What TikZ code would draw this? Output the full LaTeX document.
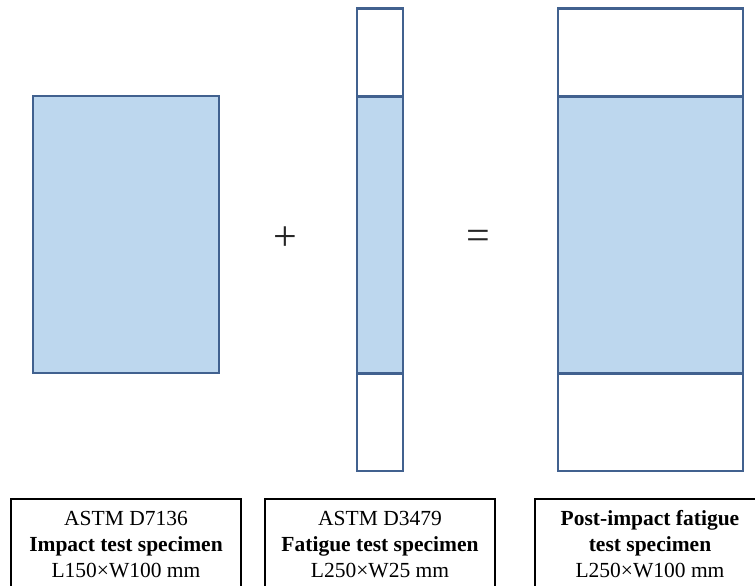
\documentclass[tikz,border=0pt]{standalone}
\usepackage{fontspec}
\setmainfont{Liberation Serif}
\definecolor{specfill}{HTML}{BDD7EE}
\definecolor{specedge}{HTML}{41618F}
\begin{document}
\begin{tikzpicture}[x=1pt,y=-1pt,
  specpart/.style={draw=specedge, line width=2.4pt, inner sep=0pt, outer sep=0pt},
  bluepart/.style={specpart, fill=specfill},
  whitepart/.style={specpart, fill=white},
  labelbox/.style={draw=black, line width=1.4pt, inner sep=0pt, outer sep=0pt},
  labeltxt/.style={font=\fontsize{21.5}{26}\selectfont, anchor=base, inner sep=0pt},
  opsign/.style={font=\fontsize{42}{42}\selectfont, inner sep=0pt, text=black!85}]
\useasboundingbox (0,0) rectangle (755,586);
\clip (0,0) rectangle (755,586);

% impact specimen
\node[bluepart, minimum width=186pt, minimum height=277pt] (impact) at (126,234.5) {};

% fatigue specimen
\node[whitepart, minimum width=46pt, minimum height=88pt] (ftop) at (380,52.5) {};
\node[bluepart, minimum width=46pt, minimum height=277pt] (fmid) at (380,235) {};
\node[whitepart, minimum width=46pt, minimum height=97pt] (fbot) at (380,422.5) {};

% post-impact fatigue specimen
\node[whitepart, minimum width=185pt, minimum height=88pt] (ptop) at (650.5,52.5) {};
\node[bluepart, minimum width=185pt, minimum height=277pt] (pmid) at (650.5,235) {};
\node[whitepart, minimum width=185pt, minimum height=97pt] (pbot) at (650.5,422.5) {};

% operators
\node[opsign] (plus) at (285.5,239) {+};
\node[opsign] (equal) at (478.5,239.5) {=};

% label boxes
\node[labelbox, minimum width=230pt, minimum height=110pt] (boxA) at (126,554) {};
\node[labelbox, minimum width=230pt, minimum height=110pt] (boxB) at (380,554) {};
\node[labelbox, minimum width=230pt, minimum height=110pt] (boxC) at (650,554) {};

\node[labeltxt] (a1) at (126,525) {ASTM D7136};
\node[labeltxt] (a2) at (126,551.5) {\bfseries Impact test specimen};
\node[labeltxt] (a3) at (126,577.5) {L150×W100 mm};

\node[labeltxt] (b1) at (380,525) {ASTM D3479};
\node[labeltxt] (b2) at (380,551.5) {\bfseries Fatigue test specimen};
\node[labeltxt] (b3) at (380,577.5) {L250×W25 mm};

\node[labeltxt] (c1) at (650,525) {\bfseries Post-impact fatigue};
\node[labeltxt] (c2) at (650,551.5) {\bfseries test specimen};
\node[labeltxt] (c3) at (650,577.5) {L250×W100 mm};
\end{tikzpicture}
\end{document}
